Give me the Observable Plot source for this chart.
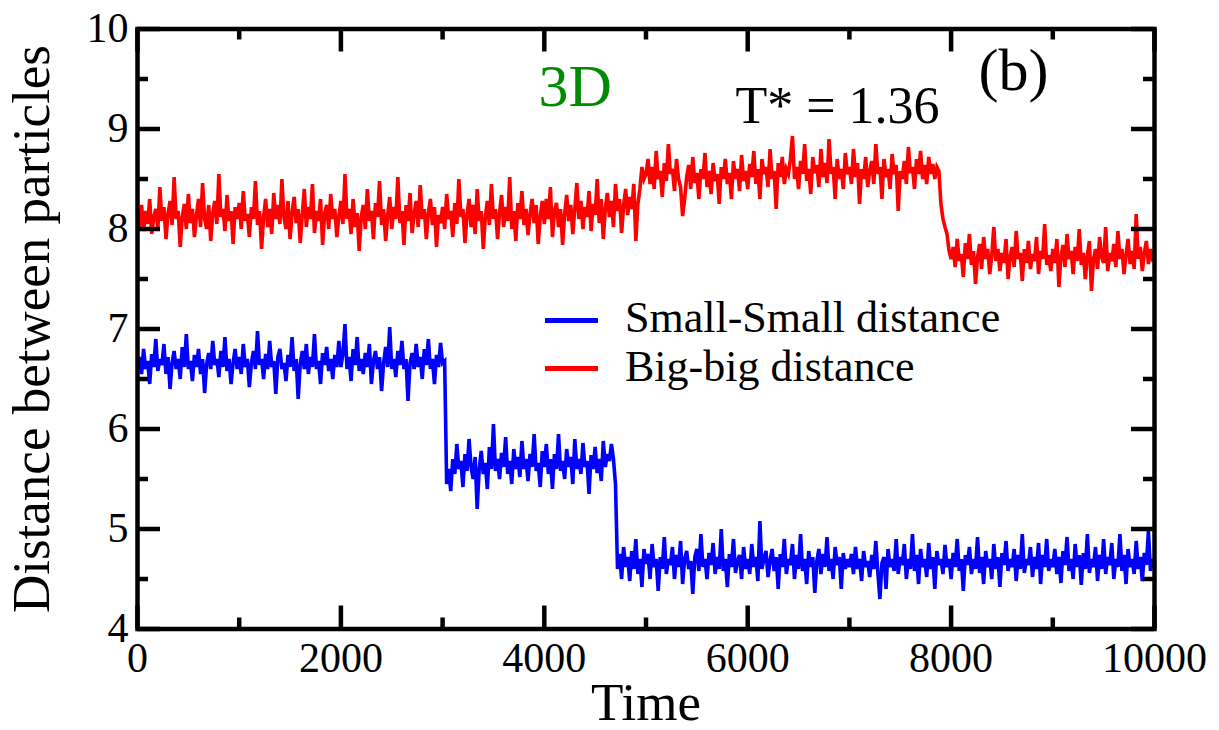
<!DOCTYPE html>
<html><head><meta charset="utf-8">
<script src="https://cdn.jsdelivr.net/npm/d3@7"></script>
<script src="https://cdn.jsdelivr.net/npm/@observablehq/plot@0.6"></script>
<style>
body{margin:0;background:#fff;}
#wrap{position:relative;width:1219px;height:730px;}
.sw{position:absolute;width:53px;height:5px;}
.lt{position:absolute;font-family:"Liberation Serif","Times New Roman",serif;font-size:44px;line-height:40px;white-space:nowrap;color:#000;}
</style></head><body><div id="wrap"></div>
<script>
// ---- data ----
const timeStep = 20; // sampling interval of the series (Time units)
const seriesNames = ["Small-Small distance", "Big-big distance"];
const seriesColors = ["#0000ff", "#ff0000"];

// Big-big distance, one block per 1000 time units
const big0 = [
  8.15, 8.02, 8.24, 7.98, 8.18, 8.05, 8.3, 7.95, 8.12, 8.2,
  8.0, 8.42, 8.08, 8.22, 7.9, 8.15, 8.28, 8.04, 8.52, 8.1,
  8.18, 7.82, 8.12, 8.25, 8.0, 8.35, 8.06, 8.2, 7.92, 8.14,
  8.3, 8.02, 8.46, 8.1, 8.0, 8.24, 7.88, 8.16, 8.28, 8.05,
  8.55, 8.12, 8.2, 7.98, 8.34, 8.08, 8.18, 7.85, 8.22, 8.1];
const big1 = [
  8.26, 8.0, 8.38, 8.08, 8.15, 7.92, 8.22, 8.1, 8.48, 8.04,
  8.18, 7.8, 8.12, 8.3, 8.02, 8.2, 7.95, 8.36, 8.1, 8.24,
  8.05, 8.5, 8.12, 8.0, 8.28, 7.9, 8.16, 8.32, 8.06, 8.2,
  7.86, 8.14, 8.4, 8.02, 8.22, 8.1, 8.45, 7.96, 8.18, 8.08,
  8.3, 7.84, 8.15, 8.24, 8.0, 8.35, 8.1, 8.2, 7.92, 8.12];
const big2 = [
  8.28, 8.05, 8.55, 8.1, 8.2, 7.95, 8.3, 8.02, 8.16, 7.78,
  8.12, 8.24, 8.0, 8.4, 8.08, 8.18, 7.9, 8.26, 8.12, 8.48,
  8.04, 8.2, 7.88, 8.14, 8.32, 8.0, 8.22, 8.1, 8.52, 8.06,
  8.18, 7.84, 8.24, 8.08, 8.36, 7.96, 8.15, 8.28, 8.02, 8.44,
  8.1, 8.2, 7.9, 8.16, 8.3, 8.04, 8.22, 7.82, 8.14, 8.06];
const big3 = [
  8.22, 8.0, 8.35, 8.1, 8.18, 7.92, 8.26, 8.05, 8.5, 8.12,
  8.2, 7.86, 8.14, 8.3, 8.02, 8.24, 7.95, 8.4, 8.08, 8.18,
  7.8, 8.12, 8.28, 8.04, 8.45, 8.1, 8.2, 7.9, 8.16, 8.34,
  8.02, 8.22, 8.08, 8.52, 8.0, 8.18, 7.88, 8.26, 8.1, 8.38,
  8.04, 8.2, 7.94, 8.15, 8.3, 8.06, 8.24, 7.85, 8.12, 8.28];
const big4 = [
  8.05, 8.3, 8.1, 8.42, 7.92, 8.18, 8.26, 8.02, 8.2, 7.84,
  8.15, 8.34, 8.08, 8.24, 7.95, 8.2, 8.46, 8.1, 8.28, 8.0,
  8.22, 8.12, 8.38, 7.98, 8.25, 8.14, 8.5, 8.06, 8.3, 7.9,
  8.2, 8.36, 8.12, 8.28, 8.02, 8.45, 8.18, 8.3, 7.96, 8.24,
  8.4, 8.14, 8.32, 8.2, 8.45, 7.88, 8.25, 8.4, 8.62, 8.5];
const big5 = [
  8.55, 8.7, 8.45, 8.62, 8.4, 8.78, 8.5, 8.58, 8.32, 8.66,
  8.48, 8.85, 8.55, 8.6, 8.38, 8.7, 8.5, 8.42, 8.13, 8.3,
  8.52, 8.64, 8.4, 8.72, 8.46, 8.56, 8.3, 8.6, 8.5, 8.76,
  8.42, 8.58, 8.35, 8.66, 8.48, 8.55, 8.25, 8.62, 8.5, 8.7,
  8.45, 8.56, 8.3, 8.68, 8.5, 8.6, 8.38, 8.74, 8.48, 8.58];
const big6 = [
  8.4, 8.65, 8.52, 8.78, 8.45, 8.6, 8.3, 8.7, 8.55, 8.62,
  8.42, 8.8, 8.5, 8.58, 8.2, 8.66, 8.52, 8.72, 8.45, 8.6,
  8.55, 8.7, 8.93, 8.5, 8.62, 8.4, 8.68, 8.55, 8.85, 8.48,
  8.6, 8.35, 8.72, 8.56, 8.64, 8.42, 8.8, 8.52, 8.66, 8.46,
  8.9, 8.55, 8.62, 8.3, 8.7, 8.5, 8.6, 8.4, 8.76, 8.55];
const big7 = [
  8.62, 8.45, 8.8, 8.52, 8.66, 8.25, 8.6, 8.5, 8.72, 8.42,
  8.58, 8.68, 8.45, 8.85, 8.55, 8.62, 8.3, 8.7, 8.52, 8.6,
  8.4, 8.75, 8.55, 8.64, 8.18, 8.58, 8.5, 8.68, 8.45, 8.82,
  8.56, 8.62, 8.4, 8.7, 8.55, 8.78, 8.5, 8.64, 8.45, 8.72,
  8.55, 8.65, 8.5, 8.62, 8.58, 8.25, 8.1, 8.02, 7.95, 7.78];
const big8 = [
  7.7, 7.82, 7.62, 7.9, 7.68, 7.75, 7.52, 7.86, 7.7, 7.95,
  7.64, 7.78, 7.45, 7.72, 7.85, 7.6, 7.92, 7.7, 7.8, 7.55,
  7.74, 8.02, 7.68, 7.8, 7.58, 7.76, 7.66, 7.9, 7.5, 7.72,
  7.82, 7.62, 7.98, 7.7, 7.76, 7.48, 7.8, 7.66, 7.88, 7.6,
  7.75, 7.68, 7.92, 7.55, 7.78, 7.7, 8.05, 7.64, 7.74, 7.58];
const big9 = [
  7.8, 7.66, 7.9, 7.42, 7.72, 7.84, 7.62, 7.95, 7.7, 7.78,
  7.55, 7.82, 7.68, 8.0, 7.64, 7.76, 7.5, 7.74, 7.88, 7.38,
  7.7, 7.8, 7.6, 7.92, 7.72, 7.66, 8.02, 7.58, 7.76, 7.68,
  7.85, 7.62, 7.98, 7.7, 7.8, 7.55, 7.74, 7.9, 7.65, 7.78,
  7.6, 8.15, 7.7, 7.82, 7.58, 7.76, 7.88, 7.65, 7.8, 7.7,
  7.72];

// Small-Small distance, one block per 1000 time units
const small0 = [
  6.62, 6.72, 6.55, 6.8, 6.6, 6.68, 6.45, 6.75, 6.62, 6.9,
  6.58, 6.7, 6.64, 6.85, 6.55, 6.72, 6.4, 6.66, 6.78, 6.6,
  6.7, 6.5, 6.82, 6.62, 6.95, 6.6, 6.68, 6.48, 6.74, 6.62,
  6.8, 6.55, 6.7, 6.36, 6.65, 6.76, 6.6, 6.88, 6.64, 6.7,
  6.52, 6.78, 6.62, 6.92, 6.58, 6.7, 6.45, 6.66, 6.8, 6.6];
const small1 = [
  6.72, 6.55, 6.85, 6.62, 6.7, 6.42, 6.66, 6.78, 6.6, 6.98,
  6.64, 6.7, 6.5, 6.75, 6.6, 6.88, 6.62, 6.68, 6.35, 6.72,
  6.8, 6.6, 6.66, 6.48, 6.74, 6.62, 6.92, 6.58, 6.7, 6.3,
  6.65, 6.78, 6.6, 6.85, 6.55, 6.72, 6.62, 6.95, 6.6, 6.68,
  6.45, 6.76, 6.64, 6.82, 6.58, 6.7, 6.5, 6.74, 6.62, 6.88];
const small2 = [
  6.62, 6.75, 7.05, 6.6, 6.72, 6.48, 6.8, 6.64, 6.92, 6.58,
  6.7, 6.55, 6.76, 6.62, 6.85, 6.45, 6.68, 6.78, 6.6, 6.72,
  6.38, 6.66, 6.82, 6.62, 7.02, 6.6, 6.7, 6.52, 6.78, 6.64,
  6.88, 6.6, 6.7, 6.28, 6.66, 6.76, 6.6, 6.85, 6.62, 6.72,
  6.5, 6.8, 6.64, 6.9, 6.6, 6.7, 6.45, 6.74, 6.62, 6.86];
const small3 = [
  6.66, 6.68, 5.45, 5.6, 5.38, 5.7, 5.55, 5.85, 5.6, 5.68,
  5.42, 5.75, 5.58, 5.9, 5.62, 5.5, 5.72, 5.2, 5.6, 5.78,
  5.55, 5.66, 5.4, 5.82, 5.6, 6.05, 5.58, 5.7, 5.5, 5.76,
  5.62, 5.92, 5.55, 5.68, 5.45, 5.8, 5.6, 5.72, 5.52, 5.88,
  5.6, 5.7, 5.48, 5.75, 5.62, 5.95, 5.58, 5.66, 5.42, 5.78];
const small4 = [
  5.62, 5.85, 5.55, 5.7, 5.4, 5.75, 5.6, 5.95, 5.58, 5.68,
  5.5, 5.8, 5.62, 5.72, 5.45, 5.9, 5.6, 5.7, 5.55, 5.86,
  5.62, 5.68, 5.35, 5.74, 5.6, 5.82, 5.56, 5.7, 5.48, 5.88,
  5.62, 5.75, 5.68, 5.85, 5.7, 5.45, 4.6, 4.75, 4.5, 4.82,
  4.62, 4.72, 4.48, 4.78, 4.6, 4.9, 4.55, 4.7, 4.42, 4.8];
const small5 = [
  4.65, 4.75, 4.5, 4.85, 4.62, 4.7, 4.38, 4.72, 4.6, 4.92,
  4.55, 4.7, 4.64, 4.82, 4.5, 4.74, 4.62, 4.88, 4.45, 4.7,
  4.78, 4.6, 4.68, 4.35, 4.72, 4.8, 4.58, 4.95, 4.62, 4.7,
  4.5, 4.76, 4.64, 4.86, 4.55, 4.72, 4.6, 5.0, 4.58, 4.7,
  4.42, 4.75, 4.62, 4.9, 4.56, 4.68, 4.74, 4.5, 4.82, 4.6];
const small6 = [
  4.7, 4.55, 4.85, 4.62, 4.72, 4.48, 5.08, 4.6, 4.7, 4.78,
  4.52, 4.68, 4.8, 4.58, 4.72, 4.4, 4.75, 4.62, 4.9, 4.55,
  4.7, 4.64, 4.85, 4.5, 4.74, 4.6, 4.95, 4.58, 4.7, 4.45,
  4.78, 4.62, 4.72, 4.36, 4.68, 4.8, 4.55, 4.75, 4.62, 4.92,
  4.58, 4.7, 4.5, 4.82, 4.64, 4.72, 4.4, 4.76, 4.6, 4.7];
const small7 = [
  4.62, 4.75, 4.55, 4.82, 4.6, 4.7, 4.48, 4.78, 4.62, 4.68,
  4.52, 4.74, 4.6, 4.88, 4.56, 4.3, 4.66, 4.72, 4.4, 4.8,
  4.62, 4.7, 4.58, 4.9, 4.55, 4.72, 4.64, 4.85, 4.5, 4.7,
  4.6, 4.95, 4.58, 4.74, 4.45, 4.8, 4.62, 4.7, 4.52, 4.86,
  4.6, 4.72, 4.4, 4.78, 4.64, 4.7, 4.55, 4.84, 4.62, 4.7];
const small8 = [
  4.5, 4.76, 4.62, 4.9, 4.58, 4.7, 4.38, 4.74, 4.64, 4.82,
  4.55, 4.7, 4.6, 4.92, 4.56, 4.72, 4.45, 4.78, 4.62, 4.7,
  4.5, 4.85, 4.6, 4.72, 4.42, 4.76, 4.64, 4.88, 4.58, 4.7,
  4.62, 4.8, 4.48, 4.74, 4.6, 4.95, 4.56, 4.7, 4.64, 4.82,
  4.52, 4.72, 4.6, 4.86, 4.45, 4.74, 4.62, 4.9, 4.58, 4.7];
const small9 = [
  4.62, 4.8, 4.55, 4.72, 4.46, 4.78, 4.64, 4.92, 4.58, 4.7,
  4.5, 4.85, 4.62, 4.74, 4.44, 4.76, 4.6, 4.95, 4.56, 4.7,
  4.62, 4.82, 4.48, 4.74, 4.6, 4.9, 4.55, 4.72, 4.64, 4.86,
  4.5, 4.7, 4.62, 4.95, 4.58, 4.74, 4.45, 4.8, 4.62, 4.7,
  4.55, 4.88, 4.6, 4.72, 4.48, 4.76, 4.64, 4.98, 4.58, 4.7,
  4.62];

const xMajor = [0, 2000, 4000, 6000, 8000, 10000];
const xMinor = [1000, 3000, 5000, 7000, 9000];
const yMajor = [4, 5, 6, 7, 8, 9, 10];
const yMinor = [4.5, 5.5, 6.5, 7.5, 8.5, 9.5];

const bigBlocks = [big0, big1, big2, big3, big4, big5, big6, big7, big8, big9];
const smallBlocks = [small0, small1, small2, small3, small4, small5, small6, small7, small8, small9];
[...bigBlocks, ...smallBlocks].forEach((b, i) => {
  const want = (i % 10 === 9) ? 51 : 50;
  if (b.length !== want) throw new Error("block " + i + " has length " + b.length);
});
const bigBig = bigBlocks.flat();
const smallSmall = smallBlocks.flat();

// ---- chart ----
const W = 1219, H = 730;
const mL = 137, mR = 65, mT = 28.5, mB = 101.5;
const innerW = W - mL - mR, innerH = H - mT - mB;
const toRows = (arr) => arr.map((v, i) => ({t: i * timeStep, v}));
const blueRows = toRows(smallSmall), redRows = toRows(bigBig);
const tk = {stroke: "#000", strokeWidth: 4.5};
const lineStyle = {strokeWidth: 3.6, strokeLinejoin: "miter", strokeMiterlimit: 4, strokeLinecap: "butt"};
const txt = {textAnchor: "start", lineAnchor: "middle"};

const chart = Plot.plot({
  width: W, height: H,
  marginLeft: mL, marginRight: mR, marginTop: mT, marginBottom: mB,
  style: {fontFamily: "'Liberation Serif','Times New Roman',serif", fontSize: "42px", background: "#fff", color: "#000", overflow: "visible"},
  x: {domain: [0, 10000], ticks: xMajor, tickSize: 0, tickPadding: 13, label: null, tickFormat: d => String(d)},
  y: {domain: [4, 10], ticks: yMajor, tickSize: 0, tickPadding: 9, label: null, tickFormat: d => String(d)},
  marks: [
    Plot.line(blueRows, {x: "t", y: "v", stroke: seriesColors[0], ...lineStyle}),
    Plot.line(redRows, {x: "t", y: "v", stroke: seriesColors[1], ...lineStyle}),
    Plot.tickX(xMajor, {x: d => d, insetTop: innerH - 23, ...tk}),
    Plot.tickX(xMajor, {x: d => d, insetBottom: innerH - 23, ...tk}),
    Plot.tickX(xMinor, {x: d => d, insetTop: innerH - 11, ...tk}),
    Plot.tickX(xMinor, {x: d => d, insetBottom: innerH - 11, ...tk}),
    Plot.tickY(yMajor, {y: d => d, insetRight: innerW - 23, ...tk}),
    Plot.tickY(yMajor, {y: d => d, insetLeft: innerW - 23, ...tk}),
    Plot.tickY(yMinor, {y: d => d, insetRight: innerW - 11, ...tk}),
    Plot.tickY(yMinor, {y: d => d, insetLeft: innerW - 11, ...tk}),
    Plot.frame({stroke: "#000", strokeWidth: 4.5}),
    Plot.text(["Time"], {frameAnchor: "bottom", textAnchor: "middle", lineAnchor: "middle", dy: 74, fontSize: 53}),
    Plot.text(["Distance between particles"], {frameAnchor: "left", textAnchor: "middle", lineAnchor: "middle", rotate: -90, dx: -105, fontSize: 53}),
    Plot.text(["3D"], {frameAnchor: "top-left", ...txt, dx: 401, dy: 58, fontSize: 60, fill: "#008b00"}),
    Plot.text(["T* = 1.36"], {frameAnchor: "top-left", ...txt, dx: 598, dy: 77, fontSize: 52}),
    Plot.text(["(b)"], {frameAnchor: "top-left", ...txt, dx: 841, dy: 42, fontSize: 60})
  ]
});

const wrap = document.getElementById("wrap");
wrap.appendChild(chart);

// legend (overlay inside the plot area)
const legendRows = [{lineY: 320, baseline: 333}, {lineY: 368, baseline: 382}];
seriesNames.forEach((name, i) => {
  const sw = document.createElement("div");
  sw.className = "sw";
  sw.style.left = "545px";
  sw.style.top = (legendRows[i].lineY - 2.5) + "px";
  sw.style.background = seriesColors[i];
  wrap.appendChild(sw);
  const lt = document.createElement("div");
  lt.className = "lt";
  lt.style.left = "625px";
  lt.style.top = (legendRows[i].baseline - 35.2) + "px";
  lt.textContent = name;
  wrap.appendChild(lt);
});
</script></body></html>
